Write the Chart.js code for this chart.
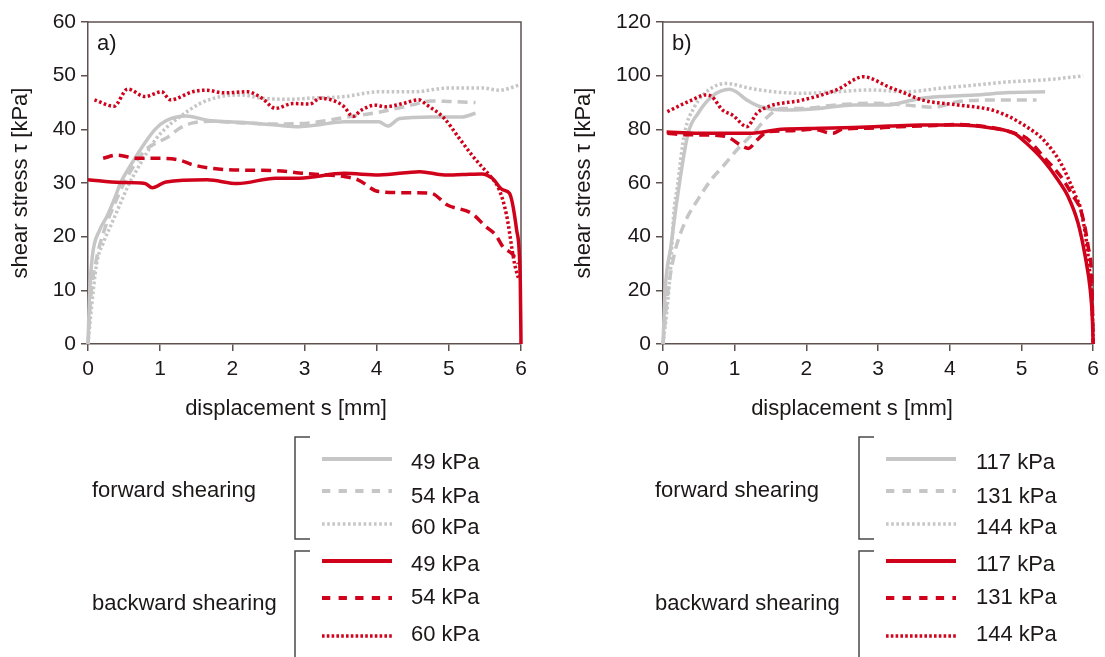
<!DOCTYPE html>
<html><head><meta charset="utf-8">
<script src="https://cdn.jsdelivr.net/npm/chart.js@4.4.0/dist/chart.umd.min.js"></script>
<style>
html,body{margin:0;padding:0;background:#fff;}
body{width:1105px;height:657px;position:relative;overflow:hidden;font-family:"Liberation Sans",Arial,sans-serif;}
.wrap{position:absolute;top:0;height:430px;}
#leg{position:absolute;left:0;top:0;pointer-events:none;}
</style></head><body>
<div class="wrap" style="left:0;width:545px"><canvas id="ca"></canvas></div>
<div class="wrap" style="left:563px;width:542px"><canvas id="cb"></canvas></div>
<svg id="leg" width="1105" height="657" xmlns="http://www.w3.org/2000/svg"></svg>
<script>
// ---------- data: panel a) ----------
const xTicks = [0, 1, 2, 3, 4, 5, 6];
const aFwd49S = [0, 0.02, 0.06, 0.16, 0.26, 0.38, 0.45, 0.6, 0.79, 0.93, 1.08, 1.36, 1.65, 2.12, 2.6, 2.93, 3.17, 3.55, 4.03, 4.15, 4.32, 4.75, 5.18, 5.37];
const aFwd49T = [0, 8.8, 16.3, 21.2, 23.7, 27.5, 30.0, 33.5, 37.5, 40.0, 41.6, 42.5, 41.7, 41.3, 40.8, 40.5, 40.8, 41.4, 41.4, 40.6, 42.0, 42.3, 42.3, 43.0];
const aFwd54S = [0, 0.04, 0.12, 0.22, 0.35, 0.5, 0.65, 0.8, 0.95, 1.1, 1.27, 1.45, 1.7, 2.12, 2.6, 3.07, 3.55, 4.03, 4.51, 4.75, 5.0, 5.37];
const aFwd54T = [0, 9, 16, 21, 25.5, 30, 33.5, 36.2, 37.5, 38.5, 40.2, 41.2, 41.5, 41.2, 41.0, 41.2, 42.2, 43.2, 44.6, 45.3, 45.2, 45.0];
const aFwd60S = [0, 0.04, 0.12, 0.21, 0.31, 0.45, 0.55, 0.7, 0.93, 1.1, 1.27, 1.55, 1.84, 2.12, 2.41, 2.8, 3.07, 3.55, 4.03, 4.51, 4.99, 5.46, 5.7, 5.99];
const aFwd60T = [0, 5.7, 15, 18.8, 21.9, 26.2, 29.3, 33, 38, 40.5, 42.3, 44.8, 46.1, 46.4, 45.8, 45.6, 45.8, 46.1, 47.0, 47.0, 47.7, 47.7, 47.3, 48.3];
const aBwd49S = [0, 0.45, 0.79, 0.89, 1.08, 1.65, 2.07, 2.6, 2.93, 3.55, 4.03, 4.6, 4.94, 5.2, 5.46, 5.6, 5.75, 5.84, 5.94, 5.99, 6.0];
const aBwd49T = [30.6, 30.1, 29.9, 29.1, 30.2, 30.6, 29.9, 30.9, 30.9, 31.8, 31.5, 32.1, 31.5, 31.6, 31.7, 30.9, 28.7, 28.1, 21.2, 11.9, 0];
const aBwd54S = [0.21, 0.4, 0.68, 1.01, 1.26, 1.45, 1.74, 2.12, 2.6, 2.98, 3.31, 3.55, 3.74, 4.03, 4.4, 4.75, 4.98, 5.32, 5.51, 5.65, 5.75, 5.89, 5.96];
const aBwd54T = [34.6, 35.2, 34.6, 34.6, 34.3, 33.4, 32.7, 32.4, 32.3, 31.8, 31.5, 31.2, 30.6, 28.4, 28.2, 28.1, 25.9, 24.3, 21.9, 20.3, 18.1, 16.6, 15];
const aBwd60S = [0.09, 0.36, 0.55, 0.79, 1.02, 1.14, 1.45, 1.64, 1.88, 2.21, 2.41, 2.6, 2.84, 3.07, 3.22, 3.43, 3.55, 3.67, 3.79, 3.98, 4.12, 4.36, 4.58, 4.7, 4.94, 5.13, 5.32, 5.46, 5.56, 5.7, 5.8, 5.91, 5.97];
const aBwd60T = [45.5, 44.3, 47.5, 46.1, 47.0, 45.5, 47.0, 47.3, 46.8, 47.0, 45.8, 43.9, 44.8, 44.7, 45.8, 45.2, 44.2, 42.4, 43.6, 44.5, 44.2, 44.8, 45.5, 44.5, 42.0, 38.6, 35.2, 33.0, 31.5, 28.7, 24, 15, 12];

// ---------- data: panel b) ----------
const bFwd117S = [0, 0.03, 0.11, 0.2, 0.35, 0.49, 0.68, 0.93, 1.02, 1.17, 1.36, 1.7, 2.18, 2.66, 3.14, 3.38, 3.62, 3.87, 4.35, 4.83, 5.33];
const bFwd117T = [0, 20, 36.3, 54.5, 78.5, 86, 92.2, 94.9, 94.0, 90.9, 88.4, 87.2, 87.8, 89.1, 89.1, 90.3, 91.6, 92.2, 92.8, 93.7, 94.0];
const bFwd131S = [0, 0.06, 0.15, 0.3, 0.49, 0.68, 0.83, 1.07, 1.26, 1.46, 1.65, 1.94, 2.42, 2.9, 3.38, 3.77, 4.11, 4.59, 5.21];
const bFwd131T = [0, 17.6, 32.5, 45, 54, 61.5, 66, 73.5, 78.5, 84.7, 87.8, 87.8, 89.1, 89.7, 89.1, 88.2, 90.3, 90.9, 90.9];
const bFwd144S = [0, 0.06, 0.11, 0.15, 0.2, 0.3, 0.44, 0.64, 0.88, 1.21, 1.55, 1.94, 2.42, 2.9, 3.38, 3.87, 4.35, 4.83, 5.31, 5.86];
const bFwd144T = [0, 14, 30, 48.7, 58.6, 78.5, 88.4, 94.7, 97.1, 95.3, 94.0, 93.4, 94.0, 94.7, 94.0, 95.3, 96.5, 97.7, 98.4, 99.9];
const bBwd117S = [0.05, 0.5, 1.2, 1.65, 2.2, 2.65, 3.15, 3.6, 4.1, 4.6, 4.9, 5.07, 5.3, 5.5, 5.65, 5.79, 5.89, 5.96, 5.99, 6.0];
const bBwd117T = [79, 78.5, 78.5, 80, 80.4, 80.7, 81.2, 81.6, 81.6, 80.4, 78.5, 74.8, 68.6, 61.5, 55, 45, 32.5, 20, 9, 0];
const bBwd131S = [0.06, 0.3, 0.59, 0.88, 1.12, 1.19, 1.31, 1.46, 1.8, 2.1, 2.37, 2.5, 2.8, 3.0, 3.3, 3.6, 4.1, 4.6, 4.85, 5.07, 5.3, 5.55, 5.7, 5.84, 5.93, 5.98, 6.0];
const bBwd131T = [78.5, 78, 77.9, 77.3, 73.5, 72.9, 76, 79.1, 79.5, 80, 78.5, 80, 80.4, 80.5, 81, 81.2, 81.8, 80.6, 79, 76.7, 70, 62.4, 56, 48.7, 36.3, 24, 0];
const bBwd144S = [0.06, 0.4, 0.59, 0.68, 0.83, 0.97, 1.17, 1.31, 1.46, 1.94, 2.42, 2.8, 2.9, 3.14, 3.38, 3.62, 4.11, 4.59, 4.83, 5.07, 5.31, 5.55, 5.74, 5.84, 5.94, 5.99, 6.0];
const bBwd144T = [86.6, 90.9, 92.8, 92.2, 87.2, 85.3, 81, 86, 88.4, 90.9, 94.7, 99.6, 99, 95.9, 93.4, 90.9, 89.1, 87.2, 84.7, 81, 76, 67.3, 56.1, 48.7, 30, 11.4, 0];

// ---------- labels ----------
const groupLabels = ['forward shearing', 'backward shearing'];
const legendA = ['49 kPa', '54 kPa', '60 kPa'];
const legendB = ['117 kPa', '131 kPa', '144 kPa'];
const yTitle = 'shear stress τ [kPa]';
const xTitle = 'displacement s [mm]';

// ---------- styles ----------
const FONT = '"Liberation Sans", Arial, sans-serif';
const TEXT = '#1c1818';
const AXIS = '#5e5250';
const GRAY = '#c6c6c6';
const RED = '#d0021b';
const DASH = [10, 6];
const DOT = [2.6, 2.4];

const pts = (xs, ys) => xs.map((x, i) => ({x: x, y: ys[i]}));
function ds(xs, ys, color, dash, order) {
  return {data: pts(xs, ys), borderColor: color, borderWidth: 3.5, borderDash: dash,
    pointRadius: 0, cubicInterpolationMode: 'monotone', fill: false, order: order, clip: 6};
}

const framePlugin = {
  id: 'frame',
  beforeDatasetsDraw(chart, args, opts) {
    const {ctx, chartArea: {left, top, right, bottom}} = chart;
    ctx.save();
    ctx.strokeStyle = AXIS; ctx.lineWidth = 1.5;
    ctx.beginPath(); ctx.moveTo(left, top); ctx.lineTo(right, top); ctx.lineTo(right, bottom); ctx.stroke();
    ctx.fillStyle = TEXT; ctx.font = '22px ' + FONT;
    ctx.textBaseline = 'middle'; ctx.textAlign = 'left';
    ctx.fillText(opts.panel, left + 9, top + 22);
    ctx.textAlign = 'center';
    ctx.fillText(opts.xTitle, left + opts.dx, opts.y);
    ctx.restore();
  }
};

function makeChart(id, datasets, ymax, ystep, yWidth, padRight, panel, dx) {
  return new Chart(document.getElementById(id), {
    type: 'line',
    data: {datasets: datasets},
    plugins: [framePlugin],
    options: {
      responsive: true, maintainAspectRatio: false, animation: false, devicePixelRatio: 1,
      layout: {padding: {left: 0, right: padRight, top: 22, bottom: 0}},
      plugins: {legend: {display: false}, tooltip: {enabled: false},
        frame: {panel: panel, xTitle: xTitle, dx: dx, y: 409}},
      scales: {
        x: {type: 'linear', min: 0, max: 6,
          afterBuildTicks(s) { s.ticks = xTicks.map(v => ({value: v})); },
          ticks: {color: TEXT, font: {size: 21, family: FONT}, padding: 6, maxRotation: 0},
          grid: {drawOnChartArea: false, drawTicks: true, tickLength: 7, color: AXIS, lineWidth: 1.5},
          border: {display: true, color: AXIS, width: 1.5},
          afterFit(s) { s.height = 86; }},
        y: {type: 'linear', min: 0, max: ymax,
          ticks: {stepSize: ystep, color: TEXT, font: {size: 21, family: FONT}, padding: 5},
          grid: {drawOnChartArea: false, drawTicks: true, tickLength: 7, color: AXIS, lineWidth: 1.5},
          border: {display: true, color: AXIS, width: 1.5},
          title: {display: true, text: yTitle, color: TEXT, font: {size: 22, family: FONT}, padding: {top: 8, bottom: 0}},
          afterFit(s) { s.width = yWidth; }}
      }
    }
  });
}

makeChart('ca', [
  ds(aBwd49S, aBwd49T, RED, [], 0),
  ds(aBwd54S, aBwd54T, RED, DASH, 0),
  ds(aBwd60S, aBwd60T, RED, DOT, 0),
  ds(aFwd49S, aFwd49T, GRAY, [], 1),
  ds(aFwd54S, aFwd54T, GRAY, DASH, 1),
  ds(aFwd60S, aFwd60T, GRAY, DOT, 1)
], 60, 10, 88, 24, 'a)', 198);

makeChart('cb', [
  ds(bBwd117S, bBwd117T, RED, [], 0),
  ds(bBwd131S, bBwd131T, RED, DASH, 0),
  ds(bBwd144S, bBwd144T, RED, DOT, 0),
  ds(bFwd117S, bFwd117T, GRAY, [], 1),
  ds(bFwd131S, bFwd131T, GRAY, DASH, 1),
  ds(bFwd144S, bFwd144T, GRAY, DOT, 1)
], 120, 20, 100, 9, 'b)', 189);

// ---------- legends (SVG) ----------
const svg = document.getElementById('leg');
const NS = 'http://www.w3.org/2000/svg';
function el(tag, attrs, txt) {
  const e = document.createElementNS(NS, tag);
  for (const k in attrs) e.setAttribute(k, attrs[k]);
  if (txt !== undefined) e.textContent = txt;
  svg.appendChild(e); return e;
}
const sampleY = [459, 491, 524, 561, 598, 636];
const labelY = [461, 495, 526, 563, 596, 633];
const sampleStyle = [
  {c: GRAY, d: 'none', w: 4}, {c: GRAY, d: '8.3 8.3', w: 4}, {c: GRAY, d: '2.6 2.6', w: 3.5},
  {c: RED, d: 'none', w: 4}, {c: RED, d: '8.3 8.3', w: 4}, {c: RED, d: '2.6 2.2', w: 3.5}
];
function legend(gx, bx, sx1, sx2, lx, labels) {
  el('text', {x: gx, y: 489, 'dominant-baseline': 'central', 'font-size': 22, 'font-family': FONT, fill: TEXT}, groupLabels[0]);
  el('text', {x: gx, y: 602, 'dominant-baseline': 'central', 'font-size': 22, 'font-family': FONT, fill: TEXT}, groupLabels[1]);
  el('path', {d: `M${bx + 15} 437 H${bx} V539 H${bx + 15}`, stroke: '#4a4a4a', 'stroke-width': 1.5, fill: 'none'});
  el('path', {d: `M${bx + 15} 551 H${bx} V670`, stroke: '#4a4a4a', 'stroke-width': 1.5, fill: 'none'});
  for (let i = 0; i < 6; i++) {
    const st = sampleStyle[i];
    el('line', {x1: sx1, y1: sampleY[i], x2: sx2, y2: sampleY[i], stroke: st.c, 'stroke-width': st.w, 'stroke-dasharray': st.d});
    el('text', {x: lx, y: labelY[i], 'dominant-baseline': 'central', 'font-size': 22, 'font-family': FONT, fill: TEXT}, labels[i % 3]);
  }
}
legend(92, 295, 322, 392, 411, legendA);
legend(655, 859, 886, 956, 976, legendB);
</script>
</body></html>
